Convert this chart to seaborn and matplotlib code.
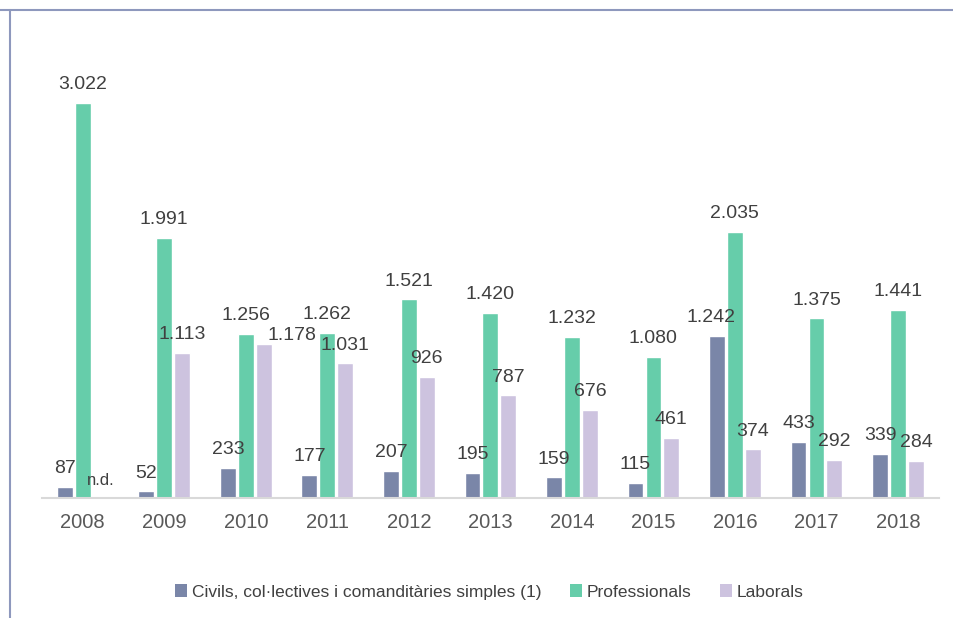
import matplotlib
matplotlib.use("Agg")
import matplotlib.pyplot as plt
import seaborn as sns
import pandas as pd
import numpy as np
from matplotlib.lines import Line2D
from matplotlib.patches import Patch

years = ["2008", "2009", "2010", "2011", "2012", "2013", "2014", "2015", "2016", "2017", "2018"]
civils = [87, 52, 233, 177, 207, 195, 159, 115, 1242, 433, 339]
professionals = [3022, 1991, 1256, 1262, 1521, 1420, 1232, 1080, 2035, 1375, 1441]
laborals = [np.nan, 1113, 1178, 1031, 926, 787, 676, 461, 374, 292, 284]
series_names = ["Civils, col·lectives i comanditàries simples (1)", "Professionals", "Laborals"]
colors = ["#7a86a8", "#66cdaa", "#cdc3df"]

def fmt(v):
    if np.isnan(v):
        return "n.d."
    return f"{int(v):,}".replace(",", ".")

rows = []
for s, vals in zip(series_names, [civils, professionals, laborals]):
    for y, v in zip(years, vals):
        rows.append({"year": y, "series": s, "value": v})
df = pd.DataFrame(rows)

sns.set_style("white")
plt.rcParams["font.family"] = ["Liberation Sans", "DejaVu Sans"]

fig = plt.figure(figsize=(9.54, 6.18), dpi=100)
ax = fig.add_axes([0.044, 0.194, 0.940, 0.757])
sns.barplot(data=df, x="year", y="value", hue="series", palette=colors,
            width=0.66, gap=0.12, order=years, hue_order=series_names,
            ax=ax, legend=False, saturation=1)

ax.set_xlim(-0.5, 10.5)
ax.set_ylim(0, 3580)
ax.set_xlabel("")
ax.set_ylabel("")
ax.set_yticks([])
for sp in ["top", "right", "left"]:
    ax.spines[sp].set_visible(False)
ax.spines["bottom"].set_color("#d9d9d9")
ax.spines["bottom"].set_linewidth(1.5)
ax.tick_params(axis="x", length=0, pad=11, labelsize=14.5, labelcolor="#595959")

# label nudges (points) where labels collide, as in the original chart
nudge = {(2, 2): (20, 0), (0, 8): (-4, 7)}
offsets = [-0.22, 0.0, 0.22]
for si, vals in enumerate([civils, professionals, laborals]):
    for i, v in enumerate(vals):
        x = i + offsets[si]
        yv = 0 if np.isnan(v) else v
        dx, dy = nudge.get((si, i), (0, 7))
        ax.annotate(fmt(v), (x, yv), xytext=(dx, dy), textcoords="offset points",
                    ha="center", va="bottom", fontsize=14 if not np.isnan(v) else 12,
                    color="#404040")

handles = [Patch(facecolor=c, edgecolor="none") for c in colors]
fig.legend(handles, series_names, loc="center", bbox_to_anchor=(0.513, 0.042),
           ncol=3, frameon=False, fontsize=12.5, handlelength=0.7, handleheight=0.7,
           handletextpad=0.3, columnspacing=1.6, labelcolor="#404040")

fig.add_artist(Line2D([0, 1], [1 - 10 / 618, 1 - 10 / 618], transform=fig.transFigure,
                      color="#8e98bd", lw=1.5))
fig.add_artist(Line2D([10 / 954, 10 / 954], [0, 1 - 10 / 618], transform=fig.transFigure,
                      color="#8e98bd", lw=1.5))

fig.savefig("out.png", dpi=100, facecolor="white")
